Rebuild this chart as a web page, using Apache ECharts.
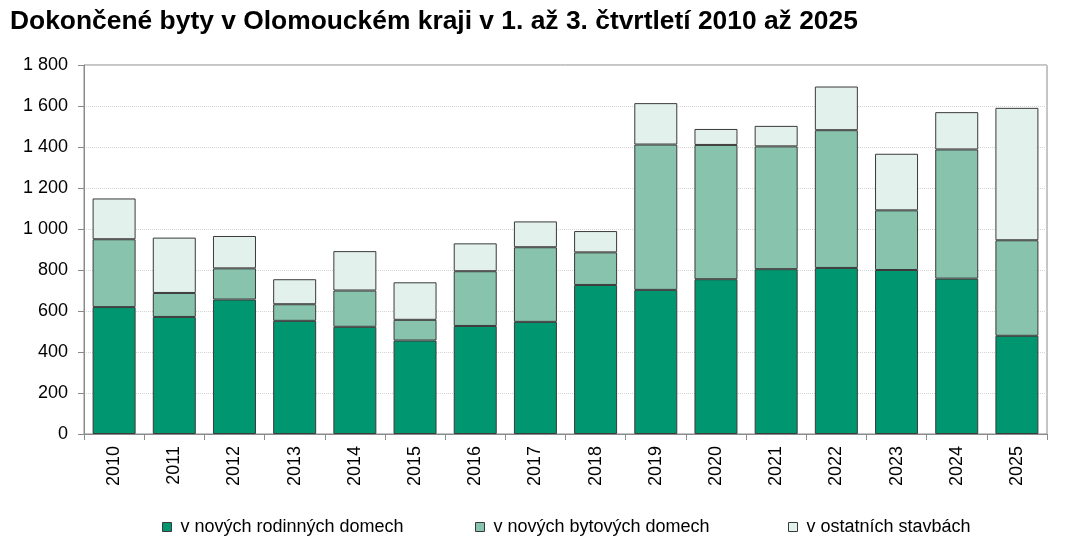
<!DOCTYPE html>
<html>
<head>
<meta charset="utf-8">
<script src="https://cdn.jsdelivr.net/npm/echarts@6/dist/echarts.min.js"></script>
<style>html,body{margin:0;padding:0;background:#fff}#c{width:1075px;height:549px}</style>
</head>
<body>
<div id="c"></div>
<script>
var years = ['2010','2011','2012','2013','2014','2015','2016','2017','2018','2019','2020','2021','2022','2023','2024','2025'];
var rodinne = [619, 571, 656, 552, 523, 456, 527, 547, 727, 703, 755, 804, 810, 800, 758, 479];
var bytove  = [331, 117, 152, 81, 177, 101, 267, 364, 159, 709, 655, 599, 672, 291, 630, 466];
var ostatni = [199, 270, 158, 122, 192, 183, 136, 126, 104, 202, 78, 100, 213, 276, 182, 646];
var seriesNames = ['v nových rodinných domech', 'v nových bytových domech', 'v ostatních stavbách'];
var yTicks = [0, 200, 400, 600, 800, 1000, 1200, 1400, 1600, 1800];

var font = '"Liberation Sans", Arial, sans-serif';
function fmt(v){ return String(v).replace(/\B(?=(\d{3})+(?!\d))/g, ' '); }

var chart = echarts.init(document.getElementById('c'), null, {renderer:'canvas'});
function mk(name, data, color){
  return {
    name: name, type: 'bar', stack: 'a', data: data, barWidth: 43,
    itemStyle: {color: color, borderColor: '#3a3a3a', borderWidth: 1},
    emphasis: {disabled: true}
  };
}
function lg(name, left){
  return {
    data: [name], left: left, top: 518, itemWidth: 9, itemHeight: 9, itemGap: 0,
    icon: 'rect', padding: 0,
    textStyle: {fontFamily: font, fontSize: 18, color: '#000', padding: [0, 0, 0, 4]},
    itemStyle: {borderColor: '#3a3a3a', borderWidth: 1}
  };
}
chart.setOption({
  animation: false,
  title: {
    text: 'Dokončené byty v Olomouckém kraji v 1. až 3. čtvrtletí 2010 až 2025',
    left: 5, top: 4,
    textStyle: {fontFamily: font, fontSize: 26.4, fontWeight: 'bold', color: '#000'}
  },
  legend: [lg(seriesNames[0], 162), lg(seriesNames[1], 475), lg(seriesNames[2], 788)],
  grid: {left: 84, right: 28, top: 65, bottom: 115, show: true, borderColor: '#8a8a8a', borderWidth: 1},
  xAxis: {
    type: 'category', data: years,
    axisLine: {lineStyle: {color: '#8a8a8a'}},
    axisTick: {show: true, alignWithLabel: false, length: 6, lineStyle: {color: '#8a8a8a'}},
    axisLabel: {rotate: 90, margin: 12, fontFamily: font, fontSize: 18, color: '#000'}
  },
  yAxis: {
    type: 'value', min: yTicks[0], max: yTicks[yTicks.length-1], interval: 200,
    axisLine: {show: true, lineStyle: {color: '#8a8a8a'}},
    axisTick: {show: true, length: 6, lineStyle: {color: '#8a8a8a'}},
    axisLabel: {fontFamily: font, fontSize: 18, color: '#000', margin: 16, formatter: function(v){return fmt(v);}},
    splitLine: {show: true, lineStyle: {color: '#d4d4d4', type: 'dotted'}}
  },
  series: [
    mk(seriesNames[0], rodinne, '#009670'),
    mk(seriesNames[1], bytove, '#88c3ad'),
    mk(seriesNames[2], ostatni, '#e2f1ec')
  ]
});
</script>
</body>
</html>
